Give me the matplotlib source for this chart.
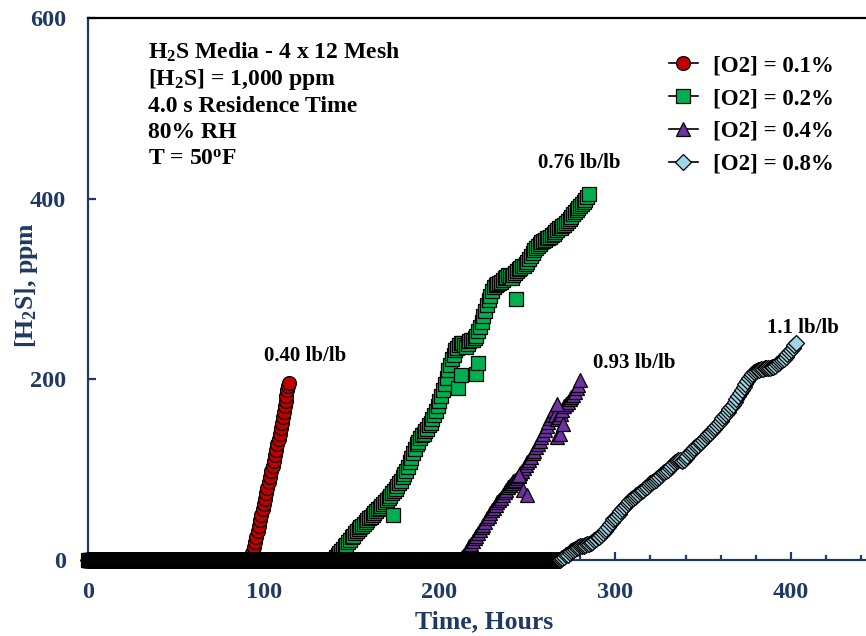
import numpy as np
import matplotlib
matplotlib.use("Agg")
import matplotlib.pyplot as plt
from matplotlib.lines import Line2D
from matplotlib.ticker import MultipleLocator

plt.rcParams['font.family'] = ['Liberation Serif', 'DejaVu Serif']
plt.rcParams['font.weight'] = 'bold'
plt.rcParams['mathtext.fontset'] = 'custom'
plt.rcParams['mathtext.rm'] = 'Liberation Serif:bold'
plt.rcParams['mathtext.bf'] = 'Liberation Serif:bold'
plt.rcParams['mathtext.it'] = 'Liberation Serif:bold'

# ---------------- data ----------------
# zero-breakthrough stretches (time in hours, sampled every 0.5 h)
base_end_01 = 92
base_end_02 = 141
base_end_04 = 213
base_end_08 = 269

# [O2] = 0.1 % breakthrough
t_01 = [92.5, 93.5, 94.3, 95.0, 95.8, 96.5, 97.2, 97.9, 98.6, 99.3, 100.0, 100.7,
        101.4, 102.1, 102.8, 103.5, 104.3, 105.0, 105.7, 106.4, 107.1, 107.8,
        108.5, 109.2, 109.8, 110.4, 111.0, 111.5, 112.0, 112.4, 112.8, 113.3,
        113.8, 114.3]
c_01 = [3, 8, 14, 20, 26, 32, 38, 44, 50, 56, 62, 68,
        74, 80, 86, 92, 98, 104, 110, 116, 122, 128,
        134, 140, 146, 152, 158, 164, 170, 176, 182, 188,
        193, 196]

# [O2] = 0.2 % breakthrough (hourly readings 141..285 h)
t_02 = list(range(141, 286))
c_02 = [3, 5, 8, 10, 12, 15, 17, 20, 22, 25,
        27, 30, 32, 34, 36, 38, 40, 42, 44, 46,
        48, 50, 52, 54, 56, 58, 60, 62, 64, 66,
        69, 71, 74, 76, 79, 82, 85, 88, 92, 95,
        99, 103, 108, 113, 118, 123, 128, 131, 135, 138,
        140, 143, 145, 149, 152, 156, 160, 165, 170, 176,
        182, 188, 195, 202, 210, 216, 222, 227, 232, 235,
        238, 240, 240, 238, 236, 239, 242, 243, 244, 246,
        248, 253, 258, 264, 270, 276, 282, 288, 292, 298,
        302, 304, 305, 307, 308, 310, 312, 313, 315, 314,
        312, 315, 318, 320, 322, 323, 325, 326, 328, 330,
        333, 336, 340, 343, 345, 348, 350, 352, 353, 354,
        356, 357, 358, 360, 361, 363, 365, 367, 368, 370,
        371, 373, 375, 377, 380, 383, 385, 388, 390, 392,
        394, 396, 399, 402, 405]
t_02_out = [173.5, 210.5, 212.0, 220.8, 222.0, 243.6]
c_02_out = [50, 190, 205, 206, 218, 289]

# [O2] = 0.4 % breakthrough (hourly readings 213..280 h)
t_04 = list(range(213, 281))
c_04 = [3, 6, 9, 12, 15, 18, 21, 24, 27, 30,
        33, 36, 39, 42, 46, 49, 52, 55, 58, 61,
        64, 66, 69, 72, 75, 78, 81, 83, 85, 87,
        89, 91, 93, 96, 99, 102, 105, 108, 111, 114,
        118, 121, 125, 128, 132, 136, 140, 144, 148, 153,
        157, 161, 166, 160, 156, 158, 162, 166, 170, 173,
        175, 178, 180, 183, 186, 190, 194, 199]
t_04_out = [245.2, 247.5, 249.6, 266.7, 266.7, 268.5, 270.4]
c_04_out = [94, 78, 72, 173, 136, 140, 151]

# [O2] = 0.8 % breakthrough (hourly readings 269..403 h)
t_08 = list(range(269, 404))
c_08 = [1, 2, 3, 5, 6, 8, 10, 11, 12, 13,
        14, 15, 15, 16, 17, 18, 18, 19, 20, 22,
        23, 25, 26, 28, 30, 32, 34, 37, 40, 42,
        45, 47, 49, 51, 54, 56, 59, 61, 63, 65,
        67, 69, 70, 72, 73, 75, 76, 78, 80, 81,
        83, 85, 86, 88, 89, 91, 92, 94, 96, 97,
        99, 100, 102, 104, 106, 108, 110, 111, 111, 110,
        111, 113, 115, 118, 120, 122, 124, 126, 127, 129,
        131, 133, 135, 137, 139, 141, 143, 145, 147, 149,
        152, 154, 157, 159, 162, 164, 167, 169, 172, 175,
        178, 181, 185, 188, 192, 195, 198, 201, 204, 206,
        208, 209, 210, 210, 211, 211, 212, 212, 213, 213,
        214, 214, 215, 217, 218, 220, 221, 223, 225, 228,
        230, 233, 235, 238, 240]
t_08_out = []
c_08_out = []

labels = ['[O2] = 0.1%', '[O2] = 0.2%', '[O2] = 0.4%', '[O2] = 0.8%']
capacity = ['0.40 lb/lb', '0.76 lb/lb', '0.93 lb/lb', '1.1 lb/lb']

# ---------------- style ----------------
navy = '#1F3864'
colors = ['#C00000', '#00B050', '#7030A0', '#9DD6E6']
markers = ['o', 's', '^', 'D']
msizes = [10, 10.5, 10.5, 8.5]

fig = plt.figure(figsize=(8.66, 6.36), dpi=100)
ax = fig.add_axes([88/866, 76/636, 778/866, 542/636])

series = [(base_end_01, t_01, c_01, [], []),
          (base_end_02, t_02, c_02, t_02_out, c_02_out),
          (base_end_04, t_04, c_04, t_04_out, c_04_out),
          (base_end_08, t_08, c_08, t_08_out, c_08_out)]
for i, (be, t, c, to, co) in enumerate(series):
    tb = np.arange(0, be, 0.5)
    tt = np.concatenate([tb, np.array(t, float), np.array(to, float)])
    cc = np.concatenate([np.zeros_like(tb), np.array(c, float), np.array(co, float)])
    ax.plot(tt, cc, linestyle='none', marker=markers[i], ms=msizes[i],
            mfc=colors[i], mec='black', mew=0.9, clip_on=False, zorder=3 + i)

ax.set_xlim(0, 442.7)
ax.set_ylim(0, 600)

for s in ['left', 'bottom']:
    ax.spines[s].set_color(navy)
    ax.spines[s].set_linewidth(1.6)
ax.spines['top'].set_color('black')
ax.spines['top'].set_linewidth(1.6)
ax.spines['right'].set_visible(False)

ax.xaxis.set_major_locator(MultipleLocator(100))
ax.xaxis.set_minor_locator(MultipleLocator(20))
ax.yaxis.set_major_locator(MultipleLocator(200))
ax.tick_params(axis='both', which='major', direction='in', length=6, width=1.6,
               color=navy, labelcolor=navy, labelsize=17.5, pad=16)
ax.tick_params(axis='x', which='minor', direction='in', length=3.5, width=1.6,
               color=navy)
ax.tick_params(axis='x', top=False)
ax.tick_params(axis='y', right=False)
for lab in ax.get_xticklabels() + ax.get_yticklabels():
    lab.set_fontweight('bold')

ax.set_xlabel('Time, Hours', fontsize=18.5, color=navy, fontweight='bold',
              va='center', ha='center')
ax.set_ylabel('[H$_2$S], ppm', fontsize=18.5, color=navy, fontweight='bold',
              va='center', ha='center')
ax.xaxis.set_label_coords((484 - 88) / 778, (560 - 622) / 542)
ax.yaxis.set_label_coords((27 - 88) / 778, (560 - 285) / 542)

# condition text block
info = ['H$_2$S Media - 4 x 12 Mesh', '[H$_2$S] = 1,000 ppm',
        '4.0 s Residence Time', '80% RH', 'T = 50$^\\mathrm{o}$F']
ys = [52, 80, 107, 133, 159]
for txt, y in zip(info, ys):
    fig.text(148/866, 1 - y/636, txt, fontsize=17, fontweight='bold',
             color='black', ha='left', va='center')

# capacity annotations
cap_pos = [(123.5, 226), (279.4, 439.5), (311, 218), (406.8, 257)]
for txt, (x, y) in zip(capacity, cap_pos):
    ax.text(x, y, txt, fontsize=15, fontweight='bold', color='black',
            ha='center', va='center')

handles = [Line2D([], [], color='black', lw=1.2, marker=markers[i],
                  ms=msizes[i], mfc=colors[i], mec='black', mew=0.9)
           for i in range(4)]
leg = fig.legend(handles, labels, loc='upper left',
                 bbox_to_anchor=(669/866, 1 - 55/636), frameon=False,
                 prop={'family': 'Liberation Serif', 'weight': 'bold', 'size': 16.5},
                 handlelength=1.25, handletextpad=0.65, labelspacing=0.52,
                 borderpad=0, borderaxespad=0)

fig.savefig('out.png', dpi=100)
